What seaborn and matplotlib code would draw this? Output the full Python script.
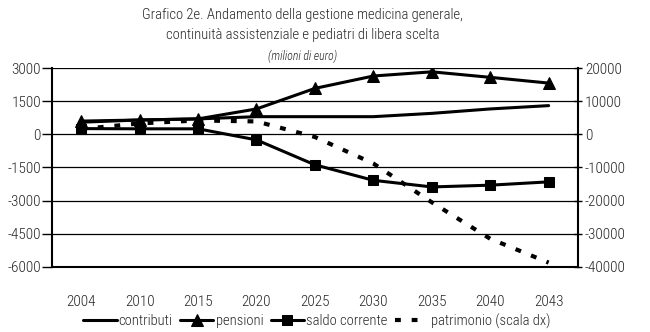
import matplotlib
matplotlib.use("Agg")
import matplotlib.pyplot as plt
import seaborn as sns
import pandas as pd
import numpy as np

anni = ["2004", "2010", "2015", "2020", "2025", "2030", "2035", "2040", "2043"]
contributi = [550, 650, 700, 800, 800, 800, 950, 1150, 1300]
pensioni = [600, 650, 700, 1150, 2080, 2640, 2830, 2580, 2320]
saldo_corrente = [260, 250, 250, -250, -1380, -2080, -2380, -2300, -2150]
patrimonio = [1600, 3300, 4200, 3900, -800, -8800, -20500, -31500, -38700]

left_ticks = [3000, 1500, 0, -1500, -3000, -4500, -6000]
right_ticks = [20000, 10000, 0, -10000, -20000, -30000, -40000]

sns.set_style("white")
plt.rcParams["font.family"] = ["Roboto Condensed", "DejaVu Sans"]
plt.rcParams["font.weight"] = "light"

df = pd.DataFrame({"x": np.arange(len(anni)), "anno": anni,
                   "contributi": contributi, "pensioni": pensioni,
                   "saldo": saldo_corrente, "patrimonio": patrimonio})

fig = plt.figure(figsize=(6.5, 3.32), dpi=100)
ax = fig.add_axes([0.08, 0.196, 0.809, 0.599])
ax2 = ax.twinx()

lw = 2.2
sns.lineplot(data=df, x="x", y="contributi", ax=ax, color="black", lw=lw,
             label="contributi", legend=False)
sns.lineplot(data=df, x="x", y="pensioni", ax=ax, color="black", lw=lw,
             marker="^", markersize=8, markeredgecolor="black",
             label="pensioni", legend=False)
sns.lineplot(data=df, x="x", y="saldo", ax=ax, color="black", lw=lw,
             marker="s", markersize=7.5, markeredgecolor="black",
             label="saldo corrente", legend=False)
sns.lineplot(data=df, x="x", y="patrimonio", ax=ax2, color="black", lw=3,
             label="patrimonio (scala dx)", legend=False)
ax2.lines[0].set_dashes([1.4, 2.6])

ax.set_xlim(-0.5, len(anni) - 0.5)
ax.set_ylim(-6000, 3000)
ax2.set_ylim(-40000, 20000)
ax.set_yticks(left_ticks)
ax.set_yticklabels([str(v) for v in left_ticks])
ax2.set_yticks(right_ticks)
ax2.set_yticklabels([str(v) for v in right_ticks])
ax.yaxis.grid(True, color="black", lw=0.9)
ax.set_axisbelow(True)

fs = 11
ax.set_xticks(np.arange(len(anni)))
ax.set_xticklabels(anni)
ax.set_xticks(np.arange(-0.5, len(anni)), minor=True)
ax.tick_params(axis="x", which="major", length=0, pad=20, labelsize=fs)
ax.tick_params(axis="x", which="minor", length=5, width=1.2, direction="out", color="black")
ax.tick_params(axis="y", length=7, width=1, direction="out", color="black", labelsize=fs, pad=1)
ax2.tick_params(axis="y", length=6, width=1, direction="inout", color="black", labelsize=fs, pad=2)
ax.set_xlabel("")
ax.set_ylabel("")
ax2.set_ylabel("")
for a in (ax, ax2):
    for s in a.spines.values():
        s.set_visible(False)
ax.spines["left"].set_visible(True)
ax.spines["bottom"].set_visible(True)
ax2.spines["right"].set_visible(True)
for sp in (ax.spines["left"], ax.spines["bottom"], ax2.spines["right"]):
    sp.set_linewidth(1.5)
    sp.set_color("black")

h1, l1 = ax.get_legend_handles_labels()
h2, l2 = ax2.get_legend_handles_labels()
fig.legend(h1 + h2, l1 + l2, loc="center", bbox_to_anchor=(0.487, 0.033), ncol=4,
           frameon=False, fontsize=10.5, handlelength=2.3, handletextpad=0.15,
           columnspacing=0.5, borderpad=0.1)

fig.text(0.466, 0.944, "Grafico 2e. Andamento della gestione medicina generale,",
         ha="center", va="baseline", fontsize=10.5)
fig.text(0.466, 0.882, "continuità assistenziale e pediatri di libera scelta",
         ha="center", va="baseline", fontsize=10.5)
fig.text(0.466, 0.818, "(milioni di euro)", ha="center", va="baseline",
         fontsize=8.5, style="italic")

fig.savefig("out.png", dpi=100)
